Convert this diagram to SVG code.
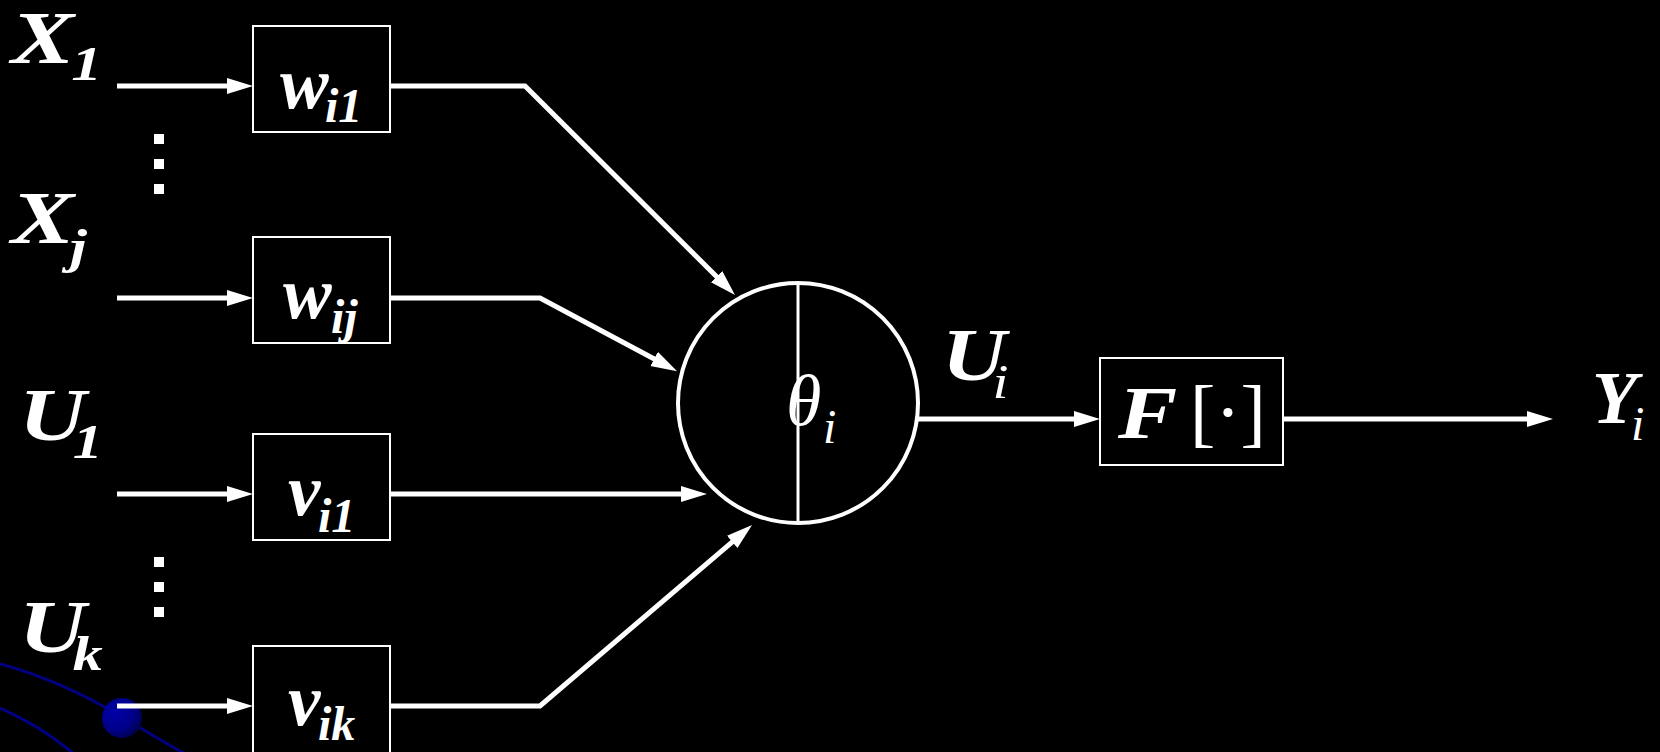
<svg xmlns="http://www.w3.org/2000/svg" width="1660" height="752" viewBox="0 0 1660 752">
<style>
.bg{fill:#000}
.box{fill:#000;stroke:#fff;stroke-width:2}
.wire{fill:none;stroke:#fff;stroke-width:5;stroke-linejoin:miter}
.big{font-family:"Liberation Serif",serif;font-size:74px;font-weight:bold;font-style:italic;fill:#fff}
.lbl{font-family:"Liberation Serif",serif;font-size:73px;font-weight:bold;font-style:italic;fill:#fff}
.sub{font-size:48px;font-weight:bold;font-style:italic}
.subr{font-size:48px;font-weight:normal;font-style:italic}
.greek{font-family:"Liberation Serif",serif;font-size:72px;font-style:italic;fill:#fff}
.plain{font-family:"Liberation Serif",serif;font-size:76px;fill:#fff}
.dot{fill:#fff}
.deco{fill:none;stroke:#000080;stroke-width:3}
</style>
<defs>
<marker id="ah" markerUnits="userSpaceOnUse" markerWidth="28" markerHeight="18" refX="14" refY="8" orient="auto" viewBox="0 0 28 18">
<path d="M0,0 L26,8 L0,16 Z" fill="#fff"/>
</marker>
<radialGradient id="ball" cx="0.35" cy="0.35" r="0.75">
<stop offset="0" stop-color="#0000a8"/>
<stop offset="0.6" stop-color="#00008a"/>
<stop offset="1" stop-color="#000040"/>
</radialGradient>
</defs>
<rect class="bg" x="0" y="0" width="1660" height="752"/>

<g id="decoration">
<path class="deco" d="M0,664 Q60,680 122,717 T196,760"/>
<path class="deco" d="M0,708 Q45,728 76,756"/>
<circle cx="122" cy="718" r="20" fill="url(#ball)"/>
</g>

<g id="connectors">
<line class="wire" x1="117" y1="86" x2="241" y2="86" marker-end="url(#ah)"/>
<line class="wire" x1="117" y1="298" x2="241" y2="298" marker-end="url(#ah)"/>
<line class="wire" x1="117" y1="494" x2="241" y2="494" marker-end="url(#ah)"/>
<line class="wire" x1="117" y1="706" x2="241" y2="706" marker-end="url(#ah)"/>
<polyline class="wire" points="390,86 525,86 726.5,286.5" marker-end="url(#ah)"/>
<polyline class="wire" points="390,298 540,298 666.5,365.5" marker-end="url(#ah)"/>
<line class="wire" x1="390" y1="494" x2="695" y2="494" marker-end="url(#ah)"/>
<polyline class="wire" points="390,706 540,706 742.9,532.8" marker-end="url(#ah)"/>
<line class="wire" x1="918" y1="419" x2="1088" y2="419" marker-end="url(#ah)"/>
<line class="wire" x1="1283" y1="419" x2="1541" y2="419" marker-end="url(#ah)"/>
</g>

<g id="dots">
<rect class="dot" x="154" y="134" width="10" height="10"/>
<rect class="dot" x="154" y="159" width="10" height="10"/>
<rect class="dot" x="154" y="184" width="10" height="10"/>
<rect class="dot" x="154" y="557" width="10" height="10"/>
<rect class="dot" x="154" y="582" width="10" height="10"/>
<rect class="dot" x="154" y="607" width="10" height="10"/>
</g>

<g id="in-x1"><text class="big" transform="translate(11,63) scale(1.28,1)" x="0" y="0">X<tspan class="sub" x="47" y="17">1</tspan></text></g>
<g id="in-xj"><text class="big" transform="translate(11,243) scale(1.28,1)" x="0" y="0">X<tspan class="sub" x="46" y="20">j</tspan></text></g>
<g id="in-u1"><text class="big" transform="translate(19,440) scale(1.25,1)" x="0" y="0">U<tspan class="sub" x="43" y="18">1</tspan></text></g>
<g id="in-uk"><text class="big" transform="translate(19,652) scale(1.25,1)" x="0" y="0">U<tspan class="sub" x="43" y="18">k</tspan></text></g>

<g id="w-i1"><rect class="box" x="253" y="26" width="137" height="106"/><text class="lbl" x="280" y="108">w<tspan class="sub" x="325" y="122">i1</tspan></text></g>
<g id="w-ij"><rect class="box" x="253" y="237" width="137" height="106"/><text class="lbl" x="283" y="318">w<tspan class="sub" x="331" y="333">ij</tspan></text></g>
<g id="v-i1"><rect class="box" x="253" y="434" width="137" height="106"/><text class="lbl" x="288" y="515">v<tspan class="sub" x="318" y="532">i1</tspan></text></g>
<g id="v-ik"><rect class="box" x="253" y="646" width="137" height="120"/><text class="lbl" x="288" y="725">v<tspan class="sub" x="318" y="740">ik</tspan></text></g>

<g id="neuron">
<circle cx="798" cy="403" r="120" fill="#000" stroke="#fff" stroke-width="4"/>
<line x1="798" y1="283" x2="798" y2="523" stroke="#fff" stroke-width="3"/>
<text class="greek" x="786" y="425">θ<tspan class="subr" x="823" y="443">i</tspan></text>
</g>

<g id="label-ui"><text class="big" transform="translate(942,380) scale(1.2,1)" x="0" y="0">U<tspan class="subr" x="42" y="18">i</tspan></text></g>

<g id="f-box"><rect class="box" x="1100" y="358" width="183" height="107"/><text class="big" transform="translate(1118,438) scale(1.2,1)" x="0" y="0">F</text><text class="plain" x="1190" y="438">[·]</text></g>

<g id="out-yi"><text class="big" x="1592" y="423">Y<tspan class="subr" x="1631" y="440">i</tspan></text></g>
</svg>
